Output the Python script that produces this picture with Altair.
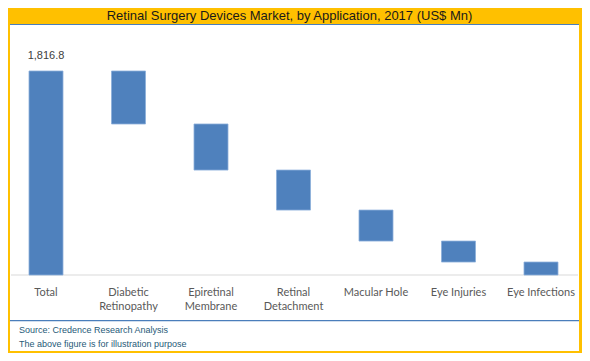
import altair as alt
import pandas as pd

# ---- data ----
categories = ["Total", "Diabetic Retinopathy", "Epiretinal Membrane", "Retinal Detachment",
              "Macular Hole", "Eye Injuries", "Eye Infections"]
tick_labels = ["Total", "Diabetic\nRetinopathy", "Epiretinal\nMembrane", "Retinal\nDetachment",
               "Macular Hole", "Eye Injuries", "Eye Infections"]
total_value = 1816.8
segment_values = [472.0, 410.3, 356.2, 276.1, 186.8, 115.4]
title_text = "Retinal Surgery Devices Market, by Application, 2017 (US$ Mn)"
footer_source = "Source: Credence Research Analysis"
footer_note = "The above figure is for illustration purpose"

# ---- waterfall table built from the arrays ----
starts, ends = [0.0], [total_value]
level = total_value
for v in segment_values:
    starts.append(round(level, 1))
    level -= v
    ends.append(round(level, 1))
bars = pd.DataFrame({"cat": categories, "label": tick_labels, "y0": starts, "y1": ends})

W, H = 574, 345
M = 8  # page margin

def px(r):
    return r - M

def py(r):
    if r <= 24.5:
        return r * 16.5 / 24.5
    if r <= 320.7:
        return r - M
    return 312.7 + (r - 320.7) * (H - 312.7) / (361 - 320.7)

one = pd.DataFrame({"k": [0]})

x_scale = alt.Scale(domain=categories, range=[px(4.75), px(582.25)],
                    paddingInner=0.588, paddingOuter=0.294)
y_scale = alt.Scale(domain=[0, total_value], range=[py(275), py(71)], nice=False, zero=False)

BLUE_LINE = "#4A7EBB"
LEFT, RIGHT = 2, 571

bg = alt.Chart(one).mark_rect(color="white").encode(
    x=alt.value(LEFT), x2=alt.value(RIGHT), y=alt.value(py(24.5)), y2=alt.value(py(358.5)))

title = alt.Chart(one).mark_text(font="Liberation Sans", fontSize=13, color="#1a1a1a",
                                 align="center", baseline="middle").encode(
    x=alt.value(px(289.5)), y=alt.value(py(12.3)), text=alt.value(title_text))

top_line = alt.Chart(one).mark_rule(color=BLUE_LINE, strokeWidth=1.2).encode(
    x=alt.value(LEFT), x2=alt.value(RIGHT), y=alt.value(py(24.5)))

foot_line = alt.Chart(one).mark_rule(color=BLUE_LINE, strokeWidth=1.2).encode(
    x=alt.value(LEFT), x2=alt.value(RIGHT), y=alt.value(py(320.7)))

baseline = alt.Chart(one).mark_rule(color="#D9D9D9", strokeWidth=1).encode(
    x=alt.value(LEFT + 1), x2=alt.value(RIGHT - 1), y=alt.value(py(275)))

bar_layer = alt.Chart(bars).mark_bar(color="#4F81BD", stroke="#8CAEDA", strokeWidth=0.8).encode(
    x=alt.X("cat:N", scale=x_scale, axis=None, sort=categories),
    y=alt.Y("y0:Q", scale=y_scale, axis=None),
    y2="y1:Q",
)

total_label = alt.Chart(bars).transform_filter(alt.datum.cat == "Total").mark_text(
    font="Liberation Sans", fontSize=11, color="#404040", baseline="middle", dy=-15.3).encode(
    x=alt.X("cat:N", scale=x_scale, axis=None, sort=categories),
    y=alt.Y("y1:Q", scale=y_scale, axis=None),
    text=alt.Text("y1:Q", format=",.1f"),
)

cat_labels = alt.Chart(bars).mark_text(
    font="Lato", fontSize=11, color="#595959", baseline="top", align="center",
    lineBreak="\n", lineHeight=14.3).encode(
    x=alt.X("cat:N", scale=x_scale, axis=None, sort=categories),
    y=alt.value(py(286.6)),
    text="label:N",
)

foot1 = alt.Chart(one).mark_text(font="Liberation Sans", fontSize=9, color="#1F5A78",
                                 align="left", baseline="middle").encode(
    x=alt.value(px(19)), y=alt.value(py(332)), text=alt.value(footer_source))
foot2 = alt.Chart(one).mark_text(font="Liberation Sans", fontSize=9, color="#1F5A78",
                                 align="left", baseline="middle").encode(
    x=alt.value(px(19)), y=alt.value(py(350)), text=alt.value(footer_note))

chart = alt.layer(bg, title, top_line, foot_line, baseline, bar_layer, total_label,
                  cat_labels, foot1, foot2).properties(
    width=W, height=H, padding=0, background="#FFC000",
    autosize=alt.AutoSizeParams(type="none"),
).configure_view(strokeWidth=0)

chart.save("out.html", embed_options={"renderer": "svg", "actions": False})
